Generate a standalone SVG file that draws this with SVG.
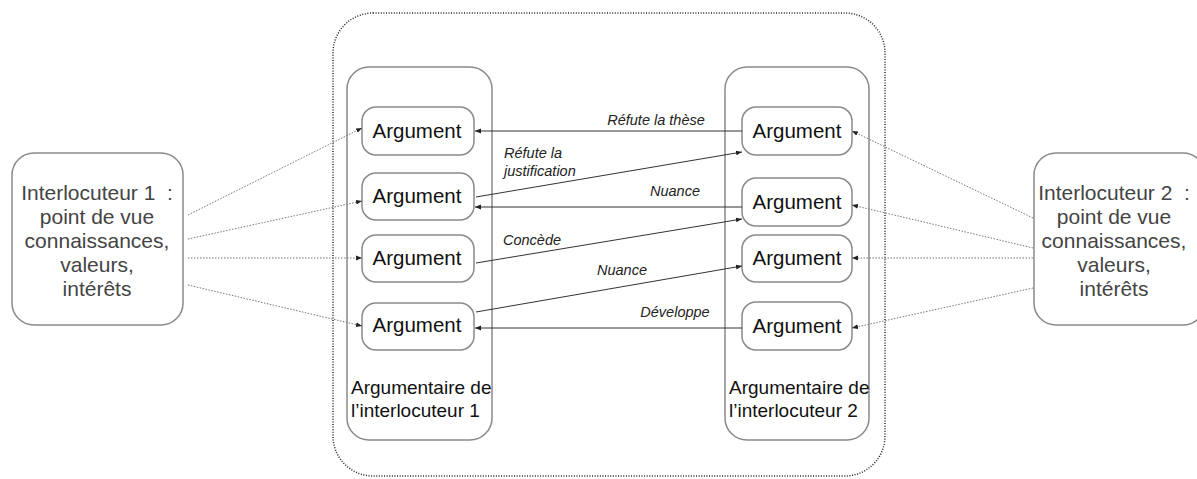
<svg xmlns="http://www.w3.org/2000/svg" width="1197" height="479" viewBox="0 0 1197 479">
<style>
.bg{fill:#fff}
.box{fill:#fff;stroke:#8a8a8a;stroke-width:1.5}
.outer{fill:none;stroke:#222;stroke-width:1.5;stroke-dasharray:1 1.6}
.arg{font-family:"Liberation Sans",Arial,sans-serif;font-size:20.5px;fill:#111;text-anchor:middle}
.big{font-family:"Liberation Sans",Arial,sans-serif;font-size:21px;fill:#444;text-anchor:middle}
.lab{font-family:"Liberation Sans",Arial,sans-serif;font-size:19px;fill:#111}
.rel{font-family:"Liberation Sans",Arial,sans-serif;font-size:14.5px;font-style:italic;fill:#222}
.solid{stroke:#333;stroke-width:1;fill:none;marker-end:url(#ah)}
.dot{stroke:#777;stroke-width:1;stroke-dasharray:1.5 1.5;fill:none;marker-end:url(#ah)}
</style>
<defs>
<marker id="ah" viewBox="0 0 10 10" refX="10" refY="5" markerWidth="6" markerHeight="6" orient="auto" markerUnits="userSpaceOnUse">
<path d="M0,1 L10,5 L0,9 Z" fill="#222"/>
</marker>
</defs>
<rect class="bg" x="0" y="0" width="1197" height="479"/>
<g id="outer"><rect class="outer" x="333" y="13" width="552" height="463" rx="40" ry="40"/></g>
<g id="argumentaire1"><rect class="box" x="347" y="67" width="145" height="373" rx="22"/>
<text class="lab" x="351" y="394">Argumentaire de</text><text class="lab" x="351" y="417">l’interlocuteur 1</text></g>
<g id="argumentaire2"><rect class="box" x="725" y="67" width="144" height="373" rx="22"/>
<text class="lab" x="729" y="394">Argumentaire de</text><text class="lab" x="729" y="417">l’interlocuteur 2</text></g>
<g id="interlocuteur1"><rect class="box" x="12" y="153" width="171" height="172" rx="22"/>
<text class="big" x="97" y="200">Interlocuteur 1 &#160;:</text>
<text class="big" x="97" y="224">point de vue</text>
<text class="big" x="97" y="248">connaissances,</text>
<text class="big" x="97" y="272">valeurs,</text>
<text class="big" x="97" y="296">intérêts</text></g>
<g id="interlocuteur2"><rect class="box" x="1034" y="153" width="171" height="172" rx="22"/>
<text class="big" x="1114" y="200">Interlocuteur 2 &#160;:</text>
<text class="big" x="1114" y="224">point de vue</text>
<text class="big" x="1114" y="248">connaissances,</text>
<text class="big" x="1114" y="272">valeurs,</text>
<text class="big" x="1114" y="296">intérêts</text></g>
<g id="argL1"><rect class="box" x="362" y="107" width="112" height="48" rx="14"/><text class="arg" x="417" y="138">Argument</text></g>
<g id="argL2"><rect class="box" x="362" y="173" width="112" height="47" rx="14"/><text class="arg" x="417" y="203">Argument</text></g>
<g id="argL3"><rect class="box" x="362" y="235" width="112" height="47" rx="14"/><text class="arg" x="417" y="265">Argument</text></g>
<g id="argL4"><rect class="box" x="362" y="303" width="112" height="47" rx="14"/><text class="arg" x="417" y="332">Argument</text></g>
<g id="argR1"><rect class="box" x="742" y="107" width="110" height="48" rx="14"/><text class="arg" x="797" y="138">Argument</text></g>
<g id="argR2"><rect class="box" x="742" y="178" width="110" height="48" rx="14"/><text class="arg" x="797" y="209">Argument</text></g>
<g id="argR3"><rect class="box" x="742" y="235" width="110" height="47" rx="14"/><text class="arg" x="797" y="265">Argument</text></g>
<g id="argR4"><rect class="box" x="742" y="302" width="110" height="48" rx="14"/><text class="arg" x="797" y="333">Argument</text></g>
<g id="connectors">
<path class="dot" d="M188,215 L362,128"/>
<path class="dot" d="M188,239 L362,201"/>
<path class="dot" d="M188,258 L362,258"/>
<path class="dot" d="M188,285 L362,326"/>
<path class="dot" d="M1033,218 L852,131"/>
<path class="dot" d="M1033,248 L852,205"/>
<path class="dot" d="M1033,258 L852,258"/>
<path class="dot" d="M1033,288 L852,328"/>
<path class="solid" d="M742,131 L475,131"/>
<path class="solid" d="M476,197 L742,152"/>
<path class="solid" d="M742,207 L475,207"/>
<path class="solid" d="M476,263 L742,219"/>
<path class="solid" d="M476,312 L742,266"/>
<path class="solid" d="M742,328 L475,328"/>
<text class="rel" x="656" y="125" text-anchor="middle">Réfute la thèse</text>
<text class="rel" x="504" y="158">Réfute la</text>
<text class="rel" x="504" y="176">justification</text>
<text class="rel" x="675" y="196" text-anchor="middle">Nuance</text>
<text class="rel" x="503" y="245">Concède</text>
<text class="rel" x="622" y="275" text-anchor="middle">Nuance</text>
<text class="rel" x="675" y="317" text-anchor="middle">Développe</text>
</g>
</svg>
